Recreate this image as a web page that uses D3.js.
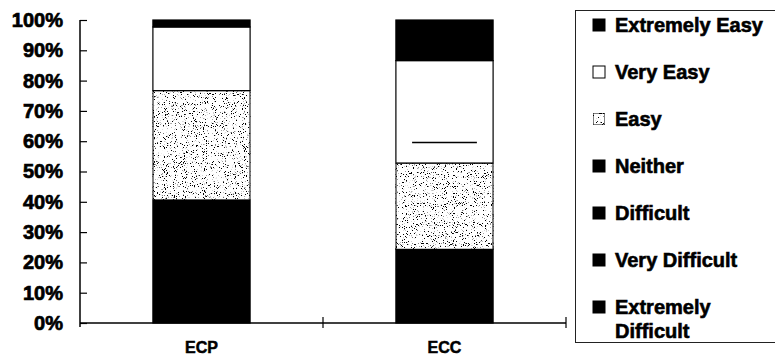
<!DOCTYPE html>
<html>
<head>
<meta charset="utf-8">
<script src="https://cdn.jsdelivr.net/npm/d3@7"></script>
<style>
  body { margin: 0; background: #fff; }
  svg text { font-family: "Liberation Sans", Arial, sans-serif; font-weight: bold; fill: #000; }
</style>
</head>
<body>
<svg id="chart" width="775" height="355"></svg>
<script>
// categories along the x axis
const groups = ["ECP", "ECC"];

// answer levels, bottom of the stack first
const levels = ["Extremely Difficult", "Very Difficult", "Difficult", "Neither", "Easy", "Very Easy", "Extremely Easy"];

// percent of answers per level (same order as levels)
const ecpValues = [0, 0, 0, 40.6, 36.1, 21.0, 2.3];
const eccValues = [0, 0, 0, 24.3, 28.5, 33.8, 13.4];

// legend goes top to bottom
const legendOrder = ["Extremely Easy", "Very Easy", "Easy", "Neither", "Difficult", "Very Difficult", "Extremely Difficult"];

const yTicks = [0, 10, 20, 30, 40, 50, 60, 70, 80, 90, 100];

// stray rule printed inside the ECC bar
const eccRule = [59.6];

const fills = {
  "Extremely Difficult": "#000",
  "Very Difficult": "#000",
  "Difficult": "#000",
  "Neither": "#000",
  "Easy": "#fff",
  "Very Easy": "#fff",
  "Extremely Easy": "#000"
};

const svg = d3.select("#chart");

// stipple texture for "Easy"
const defs = svg.append("defs");
const f = defs.append("filter").attr("id", "stip")
  .attr("x", 0).attr("y", 0).attr("width", "100%").attr("height", "100%");
f.append("feTurbulence").attr("type", "fractalNoise").attr("baseFrequency", 0.9)
  .attr("numOctaves", 2).attr("seed", 7).attr("result", "noise");
f.append("feColorMatrix").attr("in", "noise").attr("type", "matrix")
  .attr("values", "0 0 0 0 0  0 0 0 0 0  0 0 0 0 0  14 0 0 0 -8.5").attr("result", "spk");
f.append("feComposite").attr("in", "spk").attr("in2", "SourceGraphic").attr("operator", "over").attr("result", "mix");
f.append("feComposite").attr("in", "mix").attr("in2", "SourceAlpha").attr("operator", "in");

const x = d3.scaleBand().domain(groups).range([80, 566]).padding(0);
const y = d3.scaleLinear().domain([0, 100]).range([323, 20]);
const barW = x.bandwidth() * 0.4;

const table = groups.map((g, gi) => {
  const vals = gi === 0 ? ecpValues : eccValues;
  const row = { group: g };
  levels.forEach((l, i) => row[l] = vals[i]);
  return row;
});

const series = d3.stack().keys(levels)(table);

const bars = svg.append("g");
series.forEach(s => {
  bars.selectAll(null)
    .data(s.filter(d => d[1] - d[0] > 0))
    .join("rect")
      .attr("x", d => x(d.data.group) + (x.bandwidth() - barW) / 2)
      .attr("y", d => y(d[1]))
      .attr("width", barW)
      .attr("height", d => y(d[0]) - y(d[1]))
      .attr("fill", fills[s.key])
      .attr("filter", s.key === "Easy" ? "url(#stip)" : null)
      .attr("stroke", "#000")
      .attr("stroke-width", 1.2);
});

// the short rule in the ECC bar
svg.append("g").selectAll("line")
  .data(eccRule)
  .join("line")
    .attr("x1", x("ECC") + x.bandwidth() / 2 - barW / 3)
    .attr("x2", x("ECC") + x.bandwidth() / 2 + barW / 3)
    .attr("y1", d => y(d)).attr("y2", d => y(d))
    .attr("stroke", "#000").attr("stroke-width", 1.5);

// y axis
const yAxis = svg.append("g")
  .attr("transform", "translate(80,0)")
  .call(d3.axisLeft(y).tickValues(yTicks).tickSize(8).tickPadding(9).tickFormat(d => d + "%"));
yAxis.select(".domain").remove();
yAxis.selectAll(".tick line").attr("x2", 7).attr("stroke", "#000").attr("stroke-width", 1.2);
yAxis.selectAll("text").style("font-size", "20px").attr("stroke", "#000").attr("stroke-width", 0.7);
svg.append("line").attr("x1", 80).attr("x2", 80).attr("y1", y(100)).attr("y2", y(0) + 4)
  .attr("stroke", "#000").attr("stroke-width", 1.5);

// x axis
const xAxis = svg.append("g")
  .attr("transform", "translate(0," + y(0) + ")")
  .call(d3.axisBottom(x).tickSize(0).tickPadding(19));
xAxis.select(".domain").remove();
xAxis.selectAll("text").style("font-size", "16px").attr("stroke", "#000").attr("stroke-width", 0.5);
svg.append("line").attr("x1", 80).attr("x2", x.range()[1]).attr("y1", y(0)).attr("y2", y(0))
  .attr("stroke", "#000").attr("stroke-width", 1.5);
svg.append("g").selectAll("line")
  .data(groups.map(g => x(g) + x.bandwidth()))
  .join("line")
    .attr("x1", d => d).attr("x2", d => d)
    .attr("y1", y(0) - 6).attr("y2", y(0) + 5)
    .attr("stroke", "#000").attr("stroke-width", 1.2);

// legend
const legend = svg.append("g").attr("transform", "translate(575,10)");
legend.append("rect").attr("x", 0.5).attr("y", 0.5).attr("width", 210).attr("height", 332)
  .attr("fill", "none").attr("stroke", "#222").attr("stroke-width", 1);

const item = legend.selectAll("g.item")
  .data(legendOrder)
  .join("g")
    .attr("class", "item")
    .attr("transform", (d, i) => "translate(18," + (15 + i * 47) + ")");
item.append("rect")
  .attr("x", 0).attr("y", -6).attr("width", 12).attr("height", 12)
  .attr("fill", d => fills[d])
  .attr("filter", d => d === "Easy" ? "url(#stip)" : null)
  .attr("stroke", "#000").attr("stroke-width", 1);
item.append("text")
  .attr("x", 22)
  .attr("y", 7)
  .style("font-size", "20px")
  .attr("stroke", "#000").attr("stroke-width", 0.6)
  .each(function(d) {
    const t = d3.select(this);
    if (d === "Extremely Difficult") {
      t.append("tspan").attr("x", 22).text("Extremely");
      t.append("tspan").attr("x", 22).attr("dy", 24).text("Difficult");
    } else {
      t.text(d);
    }
  });
</script>
</body>
</html>
